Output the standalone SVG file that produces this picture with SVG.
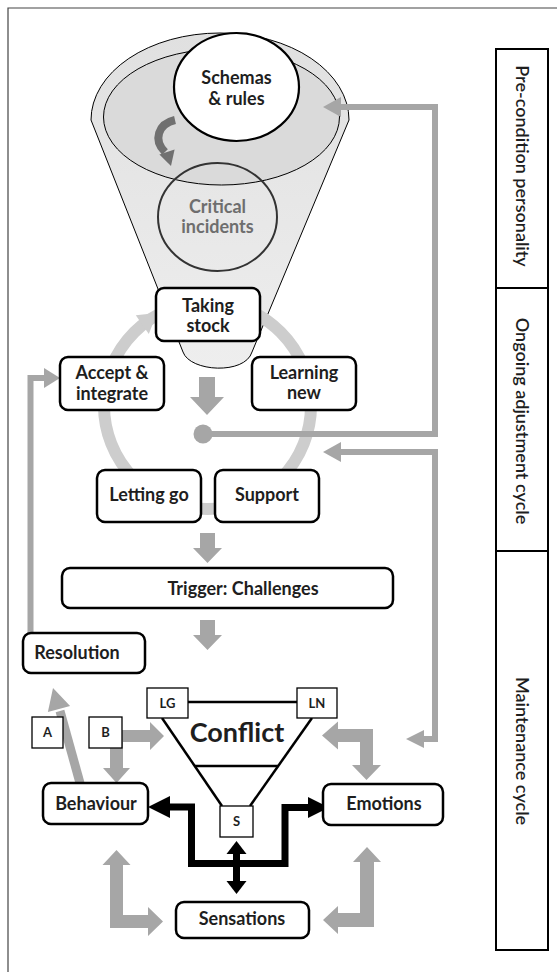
<svg xmlns="http://www.w3.org/2000/svg" width="557" height="972" viewBox="0 0 557 972">
<defs>
<linearGradient id="fg" x1="0" y1="0" x2="0" y2="1">
<stop offset="0" stop-color="#e0e0e0"/>
<stop offset="1" stop-color="#eeeeee"/>
</linearGradient>
<style>
.box{fill:#fff;stroke:#000;stroke-width:2.5}
.sq{fill:#fff;stroke:#000;stroke-width:1.3}
.t{font-family:Lato,"Liberation Sans",sans-serif;font-weight:bold;font-size:18px;text-anchor:middle;fill:#1e1e1e}
.ts{font-size:13px}
.side{font-family:Lato,"Liberation Sans",sans-serif;font-weight:600;font-size:18px;text-anchor:middle;fill:#1e1e1e}
.g{fill:#a6a6a6}
.gl{fill:none;stroke:#a6a6a6;stroke-width:6}
.bl{fill:none;stroke:#000;stroke-width:7}
.tri{stroke:#000;stroke-width:2.5;fill:none}
</style>
</defs>
<rect width="557" height="972" fill="#fff"/>
<path d="M8 972 V8 H557" fill="none" stroke="#444" stroke-width="1.2"/>

<g id="side-panel">
<rect x="496" y="49" width="52" height="901" fill="#fff" stroke="#000" stroke-width="2"/>
<line x1="496" y1="288" x2="548" y2="288" stroke="#000" stroke-width="2"/>
<line x1="496" y1="551" x2="548" y2="551" stroke="#000" stroke-width="2"/>
<text class="side" x="522" y="166" dy="0.35em" transform="rotate(90 522 166)">Pre-condition personality</text>
<text class="side" x="522" y="421" dy="0.35em" transform="rotate(90 522 421)">Ongoing adjustment cycle</text>
<text class="side" x="522" y="751" dy="0.35em" transform="rotate(90 522 751)">Maintenance cycle</text>
</g>

<g id="funnel">
<path d="M91 120 L183 352 C190 372 245 375 252 352 L349 120 A129 87 0 0 0 91 120 Z" fill="url(#fg)" stroke="#000" stroke-width="1"/>
<ellipse cx="221.5" cy="117" rx="118" ry="68" fill="#dadada" stroke="#000" stroke-width="1"/>
</g>

<g id="schemas">
<ellipse cx="236.5" cy="87" rx="62.5" ry="54" fill="#fff" stroke="#000" stroke-width="2.2"/>
<text class="t" x="236.5" y="84">Schemas</text>
<text class="t" x="236.5" y="105">&amp; rules</text>
</g>

<g id="critical-incidents">
<ellipse cx="217.5" cy="217" rx="59.5" ry="54" fill="none" stroke="#333" stroke-width="2"/>
<text class="t" x="217.5" y="213" style="fill:#6e6e6e">Critical</text>
<text class="t" x="217.5" y="233" style="fill:#6e6e6e">incidents</text>
</g>

<g id="connectors">
<path d="M175 120 C158 124 153 140 165 152" fill="none" stroke="#707070" stroke-width="8"/>
<polygon points="174.6,149.6 159.4,154.4 171,166" fill="#707070"/>
<circle cx="207.5" cy="405.5" r="103.5" fill="none" stroke="#cdcdcd" stroke-width="12"/>
<polygon points="135.8,315.3 148.8,333.9 157,313" fill="#cdcdcd"/>
<polygon class="g" points="199,377 215,377 215,397 224,397 207,415 190,397 199,397"/>
<circle class="g" cx="203" cy="434" r="9.5"/>
<path class="gl" d="M203 434 H435 V107 H340"/>
<polygon class="g" points="341,97 341,117 323,107"/>
<path class="gl" d="M423 739 H435 V452 H340"/>
<polygon class="g" points="341,442 341,462 323,452"/>
<polygon class="g" points="424,730 424,748 406,739"/>
<polygon class="g" points="200,533 215,533 215,548 222,548 207.5,563 193,548 200,548"/>
<polygon class="g" points="200,620 215,620 215,635 222,635 207.5,650 193,635 200,635"/>
<path class="gl" d="M30.5 633 V378 H45"/>
<polygon class="g" points="44,368 44,388 60,378"/>
<path d="M80 783 L60 711" fill="none" stroke="#a6a6a6" stroke-width="9"/>
<polygon class="g" points="70.1,705.9 47.9,712.1 53,688"/>
<polygon class="g" points="122,730 150,730 150,722 164,736 150,750 150,742 122,742"/>
<polygon class="g" points="110,742 123,742 123,768 130,768 116.5,783 103,768 110,768"/>
<polygon class="g" points="322,735.5 338,721.5 338,729 373,729 373,765 381,765 366.5,780 352,765 360,765 360,742 338,742 338,749.5"/>
<polygon class="g" points="116.5,850 130.5,865 123,865 123,915 148,915 148,907 163,921.5 148,936 148,928 110,928 110,865 102.5,865"/>
<polygon class="g" points="367,847 381,862 374,862 374,927 338,927 338,934 323,920 338,906 338,913 360,913 360,862 353,862"/>
<path class="bl" d="M168 807 H191.5 V863.5 H285 V807.5 H310"/>
<polygon points="170,796 170,818 148,807"/>
<polygon points="308,797 308,818 329,807.5"/>
<line x1="236.5" y1="852" x2="236.5" y2="883" stroke="#000" stroke-width="7"/>
<polygon points="226.5,854 246.5,854 236.5,841"/>
<polygon points="226.5,881 246.5,881 236.5,894"/>
</g>

<g id="taking-stock">
<rect class="box" x="156" y="288" width="104" height="53" rx="8"/>
<text class="t" x="208" y="312">Taking</text>
<text class="t" x="208" y="332">stock</text>
</g>
<g id="accept-integrate">
<rect class="box" x="60" y="357" width="104" height="53" rx="8"/>
<text class="t" x="112" y="379">Accept &amp;</text>
<text class="t" x="112" y="400">integrate</text>
</g>
<g id="learning-new">
<rect class="box" x="252" y="357" width="104" height="53" rx="8"/>
<text class="t" x="304" y="379">Learning</text>
<text class="t" x="304" y="399">new</text>
</g>
<g id="letting-go">
<rect class="box" x="97" y="470" width="104" height="52" rx="8"/>
<text class="t" x="149" y="501">Letting go</text>
</g>
<g id="support">
<rect class="box" x="215" y="470" width="104" height="52" rx="8"/>
<text class="t" x="267" y="501">Support</text>
</g>
<g id="trigger">
<rect class="box" x="62" y="568" width="331" height="40" rx="8"/>
<text class="t" x="243" y="595">Trigger: Challenges</text>
</g>
<g id="resolution">
<rect class="box" x="23" y="633" width="122" height="40" rx="8"/>
<text class="t" x="77" y="659">Resolution</text>
</g>
<g id="conflict">
<line class="tri" x1="188" y1="702" x2="297" y2="702"/>
<line class="tri" x1="162" y1="718" x2="222" y2="806"/>
<line class="tri" x1="312" y1="718" x2="250" y2="806"/>
<line class="tri" x1="194.5" y1="766" x2="278.5" y2="766"/>
<text class="t" x="237" y="742" style="font-size:27px">Conflict</text>
</g>
<g id="LG">
<rect class="sq" x="147" y="688" width="41" height="30"/>
<text class="t ts" x="167.5" y="708">LG</text>
</g>
<g id="LN">
<rect class="sq" x="297" y="688" width="40" height="30"/>
<text class="t ts" x="317" y="708">LN</text>
</g>
<g id="S">
<rect class="sq" x="220" y="806" width="33" height="31"/>
<text class="t ts" x="236.5" y="826">S</text>
</g>
<g id="A">
<rect class="sq" x="32" y="717" width="31" height="31"/>
<text class="t ts" x="47.5" y="737">A</text>
</g>
<g id="B">
<rect class="sq" x="89" y="717" width="33" height="31"/>
<text class="t ts" x="105.5" y="737">B</text>
</g>
<g id="behaviour">
<rect class="box" x="43" y="783" width="105" height="41" rx="8"/>
<text class="t" x="96" y="810">Behaviour</text>
</g>
<g id="emotions">
<rect class="box" x="323" y="784" width="120" height="41" rx="8"/>
<text class="t" x="384" y="810">Emotions</text>
</g>
<g id="sensations">
<rect class="box" x="176" y="902" width="133" height="36" rx="8"/>
<text class="t" x="242" y="925">Sensations</text>
</g>
</svg>
